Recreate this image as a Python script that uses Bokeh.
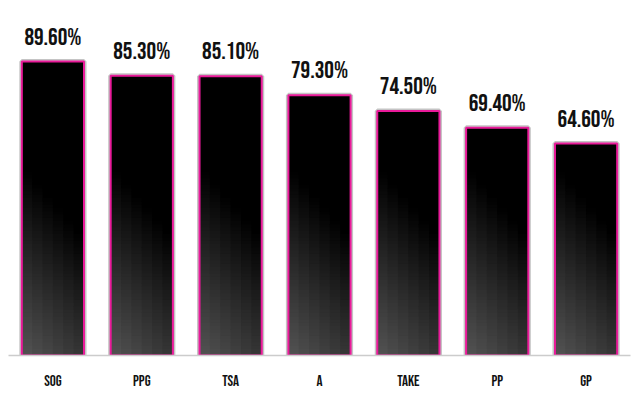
from bokeh.plotting import figure
from bokeh.models import ColumnDataSource, FactorRange, Range1d
from bokeh.core.properties import value
from bokeh.embed import file_html
from bokeh.resources import INLINE

categories = ["SOG", "PPG", "TSA", "A", "TAKE", "PP", "GP"]
values = [89.6, 85.3, 85.1, 79.3, 74.5, 69.4, 64.6]
labels = [f"{v:.2f}%" for v in values]

BAR_W = 0.7
FONT = "Bebas Neue"

p = figure(width=639, height=393, x_range=FactorRange(factors=categories, range_padding=0),
           y_range=Range1d(0, 108.2), output_backend="svg", toolbar_location=None,
           min_border_left=8, min_border_right=9, min_border_top=0, min_border_bottom=37)
p.outline_line_color = None
p.background_fill_color = "white"
p.border_fill_color = "white"
p.grid.visible = False
p.yaxis.visible = False

# gray outer edge
p.vbar(x=categories, top=values, width=BAR_W, bottom=0, fill_color=None,
       line_color="#c4c4c4", line_width=5)

# gradient fill built from slices of each bar
NCOL = 6
xs_l, xs_r, ys_b, ys_t, cols = [], [], [], [], []
for cat, v in zip(categories, values):
    step = 1.0
    y0 = 0.0
    while y0 < v:
        y1 = min(v, y0 + step)
        ym = (y0 + y1) / 2
        for c in range(NCOL):
            xf = (c + 0.5) / NCOL
            lvl = 84 * max(0.0, 1 - (ym + 22 * xf) / 58)
            g = int(round(lvl))
            xs_l.append((cat, -BAR_W / 2 + BAR_W * c / NCOL))
            xs_r.append((cat, -BAR_W / 2 + BAR_W * (c + 1) / NCOL + (0.01 if c < NCOL - 1 else 0)))
            ys_b.append(y0)
            ys_t.append(min(v, y1 + 0.4))
            cols.append("#%02x%02x%02x" % (g, g, g))
        y0 = y1
src = ColumnDataSource(dict(left=xs_l, right=xs_r, bottom=ys_b, top=ys_t, color=cols))
p.quad(left="left", right="right", bottom="bottom", top="top", fill_color="color",
       line_color=None, source=src)

# pink border
p.vbar(x=categories, top=values, width=BAR_W, bottom=0, fill_color=None,
       line_color="#ea1a9a", line_width=2)

# value labels
p.text(x=categories, y=values, text=labels, text_align="center", text_baseline="bottom",
       y_offset=-10, text_font=value(FONT), text_font_style="normal",
       text_font_size="24px", text_color="#111111")

ax = p.xaxis[0]
ax.axis_line_color = "#cccccc"
ax.axis_line_width = 1.5
ax.major_tick_line_color = None
ax.minor_tick_line_color = None
ax.major_label_text_font = FONT
ax.major_label_text_font_style = "normal"
ax.major_label_text_font_size = "15px"
ax.major_label_text_color = "#111111"
ax.major_label_standoff = 10

open("out.html", "w").write(file_html(p, INLINE))
